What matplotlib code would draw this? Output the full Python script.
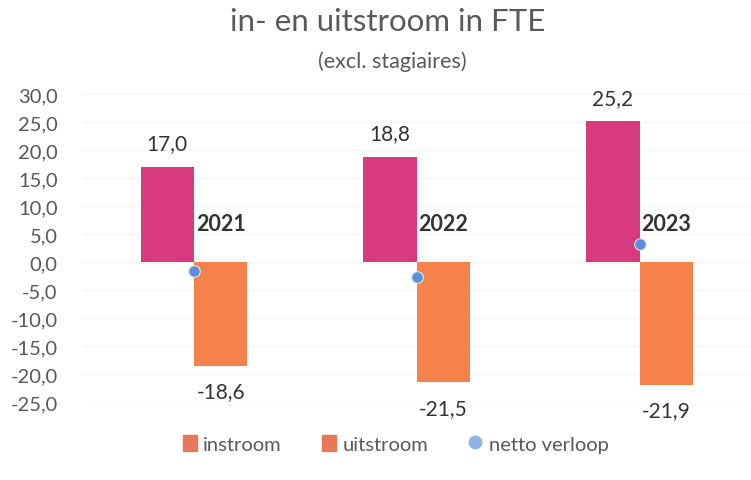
import matplotlib.pyplot as plt
from matplotlib.ticker import FuncFormatter
from matplotlib.lines import Line2D
from matplotlib.patches import Patch
import numpy as np

# data
jaren = ['2021', '2022', '2023']
instroom = [17.0, 18.8, 25.2]
uitstroom = [-18.6, -21.5, -21.9]
netto = [-1.6, -2.7, 3.3]

plt.rcParams['font.family'] = ['Lato', 'DejaVu Sans']

fig = plt.figure(figsize=(7.51, 4.81), dpi=100)
ax = fig.add_axes([0.11, 0.162, 0.89, 0.64])

x = np.arange(len(jaren))
w = 0.24
ax.bar(x - w / 2, instroom, w, color='#d83a7f', zorder=2)
ax.bar(x + w / 2, uitstroom, w, color='#f4824a', zorder=2)
ax.scatter(x, netto, s=70, color='#5b8fd8', edgecolor='#dce8f7', linewidth=0.8, zorder=3)

for i in range(len(jaren)):
    ax.text(x[i] - w / 2, instroom[i] + 4.2, f'{instroom[i]:.1f}'.replace('.', ','),
            ha='center', va='center', fontsize=15, color='#333333')
    ax.text(x[i] + w / 2, uitstroom[i] - 4.5, f'{uitstroom[i]:.1f}'.replace('.', ','),
            ha='center', va='center', fontsize=15, color='#333333')
    ax.text(x[i] + w / 2, 6.9, jaren[i], ha='center', va='center',
            fontsize=15.5, fontweight='bold', color='#333333')

ax.set_ylim(-25, 30)
ax.set_yticks(np.arange(-25, 31, 5))
ax.yaxis.set_major_formatter(FuncFormatter(lambda v, p: f'{v:.1f}'.replace('.', ',')))
ax.set_xlim(-0.5, 2.5)
ax.set_xticks([])
ax.tick_params(axis='y', length=0, labelsize=14.5, colors='#595959', pad=18)
ax.grid(axis='y', color='#f4f4f4', linewidth=1, zorder=0)
for s in ax.spines.values():
    s.set_visible(False)

fig.text(0.516, 0.955, 'in- en uitstroom in FTE', ha='center', va='center',
         fontsize=22.5, color='#595959')
fig.text(0.522, 0.872, '(excl. stagiaires)', ha='center', va='center',
         fontsize=15.5, color='#595959')

handles = [Patch(color='#e8785a'), Patch(color='#e8785a'),
           Line2D([], [], marker='o', linestyle='', markersize=9, color='#8db4e2')]
fig.legend(handles, ['instroom', 'uitstroom', 'netto verloop'], loc='center',
           bbox_to_anchor=(0.527, 0.075), ncol=3, frameon=False, fontsize=14.5,
           labelcolor='#595959', handlelength=0.7, handleheight=0.9,
           handletextpad=0.3, columnspacing=2.0)

fig.savefig('out.png', dpi=100)
